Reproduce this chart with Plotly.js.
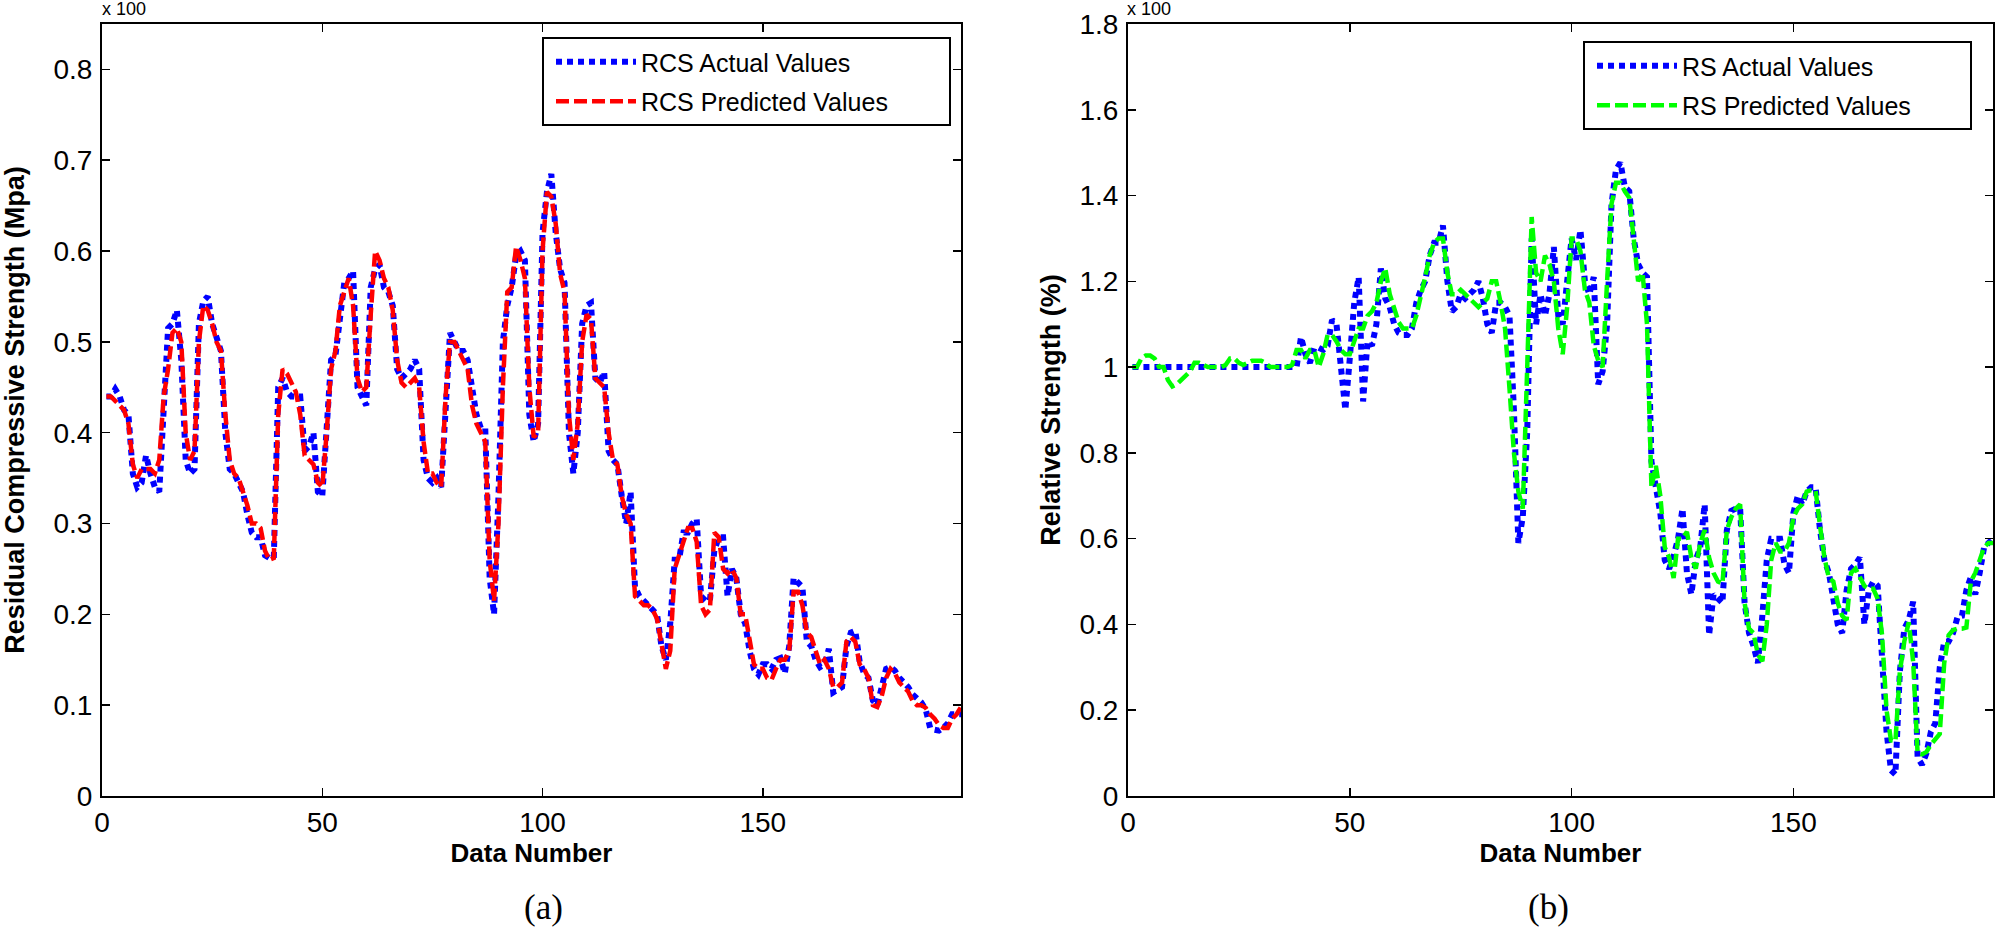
<!DOCTYPE html>
<html>
<head>
<meta charset="utf-8">
<script src="https://cdn.plot.ly/plotly-3.0.1.min.js"></script>
<style>html,body{margin:0;padding:0;background:#fff;}#chart{width:1995px;height:929px;}</style>
</head>
<body>
<div id="chart"></div>
<script>
// Data number (1..195)
const dataNumber = Array.from({length: 195}, (_, k) => k + 1);

// Panel (a): Residual Compressive Strength (x100 Mpa)
const rcsActual = [
0.44,0.44,0.448,0.44,0.425,0.42,0.355,0.34,0.345,0.375,
0.355,0.34,0.335,0.42,0.515,0.52,0.535,0.48,0.37,0.355,
0.36,0.52,0.545,0.55,0.52,0.505,0.49,0.4,0.36,0.355,
0.345,0.335,0.31,0.29,0.285,0.285,0.265,0.262,0.262,0.45,
0.46,0.445,0.44,0.44,0.44,0.38,0.385,0.4,0.335,0.33,
0.42,0.48,0.485,0.53,0.565,0.57,0.578,0.45,0.44,0.43,
0.56,0.58,0.585,0.56,0.555,0.54,0.47,0.46,0.465,0.47,
0.48,0.47,0.37,0.35,0.345,0.35,0.34,0.42,0.51,0.5,
0.49,0.49,0.48,0.45,0.42,0.405,0.405,0.24,0.2,0.33,
0.5,0.54,0.56,0.595,0.6,0.59,0.42,0.39,0.41,0.62,
0.665,0.685,0.62,0.58,0.565,0.4,0.355,0.4,0.52,0.54,
0.543,0.46,0.455,0.467,0.38,0.37,0.365,0.33,0.3,0.335,
0.23,0.22,0.215,0.21,0.205,0.2,0.165,0.15,0.19,0.26,
0.26,0.29,0.29,0.3,0.305,0.22,0.215,0.215,0.27,0.285,
0.285,0.22,0.25,0.24,0.2,0.19,0.16,0.14,0.134,0.145,
0.145,0.14,0.15,0.152,0.135,0.165,0.24,0.235,0.23,0.17,
0.165,0.15,0.142,0.145,0.162,0.114,0.118,0.12,0.165,0.18,
0.182,0.148,0.135,0.13,0.105,0.1,0.12,0.14,0.142,0.138,
0.13,0.125,0.12,0.112,0.108,0.103,0.095,0.075,0.073,0.072,
0.075,0.08,0.09,0.09,0.09
];
const rcsPredicted = [
0.44,0.44,0.435,0.43,0.425,0.41,0.365,0.35,0.36,0.36,
0.36,0.355,0.37,0.44,0.47,0.51,0.515,0.5,0.4,0.37,
0.38,0.5,0.54,0.535,0.52,0.5,0.49,0.42,0.37,0.355,
0.35,0.335,0.32,0.3,0.3,0.295,0.27,0.26,0.262,0.42,
0.47,0.465,0.455,0.445,0.42,0.375,0.37,0.365,0.345,0.34,
0.4,0.47,0.49,0.54,0.555,0.57,0.54,0.46,0.445,0.45,
0.53,0.6,0.59,0.57,0.56,0.535,0.48,0.455,0.45,0.455,
0.46,0.45,0.39,0.355,0.355,0.345,0.34,0.44,0.5,0.5,
0.49,0.48,0.47,0.43,0.41,0.4,0.39,0.26,0.215,0.3,
0.45,0.555,0.56,0.605,0.59,0.57,0.45,0.395,0.4,0.6,
0.665,0.66,0.63,0.575,0.555,0.42,0.37,0.41,0.5,0.53,
0.525,0.46,0.455,0.45,0.4,0.37,0.365,0.33,0.31,0.3,
0.22,0.215,0.21,0.21,0.205,0.195,0.17,0.14,0.16,0.25,
0.265,0.28,0.295,0.295,0.28,0.21,0.2,0.205,0.29,0.285,
0.25,0.245,0.25,0.24,0.2,0.2,0.17,0.145,0.14,0.14,
0.13,0.128,0.14,0.15,0.15,0.16,0.225,0.225,0.21,0.18,
0.175,0.16,0.145,0.15,0.14,0.12,0.12,0.125,0.17,0.175,
0.17,0.145,0.14,0.13,0.1,0.098,0.11,0.13,0.14,0.135,
0.125,0.12,0.115,0.105,0.1,0.1,0.097,0.09,0.085,0.078,
0.075,0.075,0.085,0.09,0.098
];

// Panel (b): Relative Strength (x100 %)
const rsActual = [
1,1,1,1,1,1,1,1,1,1,
1,1,1,1,1,1,1,1,1,1,
1,1,1,1,1,1,1,1,1,1,
1,1,1,1,1,1,1,1,1.07,1.03,
1.01,1.045,1.045,1.04,1.05,1.11,1.1,0.98,0.9,1.02,
1.15,1.21,0.92,1.06,1.05,1.1,1.23,1.16,1.14,1.1,
1.08,1.075,1.075,1.09,1.15,1.18,1.2,1.26,1.29,1.29,
1.33,1.2,1.13,1.14,1.17,1.16,1.17,1.18,1.2,1.16,
1.1,1.08,1.15,1.15,1.14,1.12,0.9,0.59,0.65,0.85,
1.3,1.1,1.17,1.12,1.17,1.28,1.12,1.1,1.2,1.3,
1.25,1.32,1.2,1.17,1.21,0.96,0.99,1.1,1.38,1.46,
1.477,1.42,1.41,1.3,1.24,1.22,1.21,0.78,0.72,0.66,
0.55,0.53,0.56,0.6,0.67,0.52,0.47,0.55,0.58,0.68,
0.375,0.47,0.46,0.45,0.62,0.665,0.67,0.67,0.45,0.38,
0.35,0.31,0.42,0.55,0.6,0.6,0.6,0.54,0.52,0.66,
0.7,0.68,0.71,0.72,0.72,0.62,0.55,0.52,0.45,0.4,
0.38,0.48,0.53,0.54,0.556,0.4,0.48,0.5,0.49,0.3,
0.15,0.06,0.05,0.29,0.39,0.41,0.453,0.09,0.073,0.1,
0.15,0.17,0.3,0.36,0.36,0.38,0.417,0.42,0.48,0.51,
0.47,0.52,0.58,0.59,0.6
];
const rsPredicted = [
1.0,1.0,1.02,1.027,1.027,1.02,1.0,1.0,0.97,0.955,
0.96,0.97,0.98,0.99,1.01,1.01,1.005,1.0,1.0,1.0,
1.0,1.005,1.02,1.02,1.01,1.005,1.01,1.015,1.015,1.015,
1.01,1.0,1.0,1.0,1.0,1.0,1.005,1.04,1.04,1.02,
1.04,1.04,1.0,1.03,1.075,1.075,1.06,1.04,1.03,1.03,
1.06,1.09,1.09,1.12,1.13,1.15,1.2,1.23,1.17,1.14,
1.105,1.09,1.09,1.09,1.12,1.16,1.21,1.26,1.29,1.3,
1.3,1.22,1.17,1.17,1.18,1.17,1.16,1.15,1.14,1.15,
1.16,1.2,1.2,1.15,1.09,0.95,0.8,0.71,0.67,1.0,
1.35,1.22,1.2,1.26,1.24,1.2,1.09,1.03,1.14,1.3,
1.3,1.27,1.18,1.15,1.05,1.015,1.0,1.2,1.38,1.43,
1.43,1.41,1.395,1.3,1.2,1.22,1.1,0.72,0.77,0.7,
0.58,0.556,0.508,0.6,0.6,0.616,0.556,0.53,0.59,0.62,
0.556,0.52,0.5,0.495,0.62,0.65,0.67,0.68,0.45,0.39,
0.38,0.33,0.314,0.4,0.55,0.59,0.57,0.57,0.59,0.65,
0.67,0.68,0.71,0.713,0.713,0.63,0.556,0.508,0.5,0.45,
0.42,0.41,0.52,0.53,0.51,0.49,0.483,0.483,0.46,0.375,
0.2,0.13,0.127,0.29,0.36,0.405,0.314,0.1,0.097,0.103,
0.12,0.133,0.145,0.31,0.375,0.387,0.39,0.39,0.393,0.5,
0.52,0.55,0.58,0.59,0.59
];

const xTickVals = [0, 50, 100, 150];
const panelLabels = ['(a)', '(b)'];
const legendNames = ['RCS Actual Values', 'RCS Predicted Values', 'RS Actual Values', 'RS Predicted Values'];
const yTitles = ['Residual Compressive Strength (Mpa)', 'Relative Strength (%)'];

const FONT = 'Liberation Sans, Arial, Helvetica, sans-serif';
const W = 1995, H = 929;
const dotLine = {color: '#0000ff', width: 6, dash: '6px,5px'};

const traces = [
  {x: dataNumber, y: rcsActual, name: legendNames[0], type: 'scatter', mode: 'lines',
   line: dotLine, xaxis: 'x', yaxis: 'y', legend: 'legend', legendgroup: 'a1'},
  {x: dataNumber, y: rcsPredicted, name: legendNames[1], type: 'scatter', mode: 'lines',
   line: {color: '#ff0000', width: 4.5, dash: '13px,5px'}, xaxis: 'x', yaxis: 'y', legend: 'legend', legendgroup: 'a2'},
  {x: dataNumber, y: rsActual, name: legendNames[2], type: 'scatter', mode: 'lines',
   line: dotLine, xaxis: 'x2', yaxis: 'y2', legend: 'legend2', legendgroup: 'b1'},
  {x: dataNumber, y: rsPredicted, name: legendNames[3], type: 'scatter', mode: 'lines',
   line: {color: '#00ff00', width: 4.5, dash: '13px,5px'}, xaxis: 'x2', yaxis: 'y2', legend: 'legend2', legendgroup: 'b2'}
];

const yDom = [1 - 796 / H, 1 - 24 / H];

function xAxis(dom, anchor) {
  return {
    domain: dom, anchor: anchor, range: [0, 195], tickvals: xTickVals,
    ticks: 'inside', ticklen: 8, tickwidth: 1.5, tickcolor: '#000',
    showline: true, linecolor: '#000', linewidth: 2, mirror: 'ticks',
    showgrid: false, zeroline: false,
    tickfont: {family: FONT, size: 28, color: '#000'},
    title: {text: 'Data Number', font: {family: FONT, size: 26, color: '#000', weight: 'bold'}, standoff: 4},
    automargin: false
  };
}
function yAxis(dom, anchor, range, dtick, title, standoff) {
  return {
    domain: dom, anchor: anchor, range: range, dtick: dtick, tick0: 0,
    ticks: 'inside', ticklen: 8, tickwidth: 1.5, tickcolor: '#000',
    showline: true, linecolor: '#000', linewidth: 2, mirror: 'ticks',
    showgrid: false, zeroline: false,
    tickfont: {family: FONT, size: 28, color: '#000'},
    ticklabelstandoff: 2,
    title: {text: title, font: {family: FONT, size: 27, color: '#000', weight: 'bold'}, standoff: standoff},
    automargin: false
  };
}

function legendCfg(xLeft, yTop) {
  return {
    x: xLeft, xanchor: 'left', y: 1 - yTop / H, yanchor: 'top',
    bgcolor: 'rgba(0,0,0,0)', borderwidth: 0,
    font: {family: FONT, size: 25, color: '#000'},
    itemwidth: 80, tracegroupgap: 4, traceorder: 'grouped'
  };
}

function box(x0, x1, y0, y1) {
  return {type: 'rect', xref: 'paper', yref: 'paper', x0: x0 / W, x1: x1 / W, y0: 1 - y1 / H, y1: 1 - y0 / H,
          line: {color: '#000', width: 2}, fillcolor: '#fff', layer: 'above'};
}

const layout = {
  width: W, height: H,
  margin: {l: 0, r: 0, t: 0, b: 0},
  paper_bgcolor: '#fff', plot_bgcolor: '#fff',
  showlegend: true,
  xaxis: xAxis([102 / W, 961 / W], 'y'),
  yaxis: yAxis(yDom, 'x', [0, 0.85], 0.1, yTitles[0], 22),
  xaxis2: xAxis([1128 / W, 1993 / W], 'y2'),
  yaxis2: yAxis(yDom, 'x2', [0, 1.8], 0.2, yTitles[1], 11),
  legend: legendCfg(551 / W, 39),
  legend2: legendCfg(1592 / W, 43),
  shapes: [box(543, 950, 38, 125), box(1584, 1971, 42, 129)],
  annotations: [
    {text: 'x 100', xref: 'paper', yref: 'paper', x: 100 / W, y: 1 - 9 / H, xanchor: 'left', yanchor: 'middle',
     showarrow: false, font: {family: FONT, size: 18, color: '#000'}},
    {text: 'x 100', xref: 'paper', yref: 'paper', x: 1125 / W, y: 1 - 9 / H, xanchor: 'left', yanchor: 'middle',
     showarrow: false, font: {family: FONT, size: 18, color: '#000'}},
    {text: panelLabels[0], xref: 'paper', yref: 'paper', x: 543 / W, y: 0, xanchor: 'center', yanchor: 'bottom',
     showarrow: false, font: {family: 'Liberation Serif, Times New Roman, serif', size: 35, color: '#000'}},
    {text: panelLabels[1], xref: 'paper', yref: 'paper', x: 1548 / W, y: 0, xanchor: 'center', yanchor: 'bottom',
     showarrow: false, font: {family: 'Liberation Serif, Times New Roman, serif', size: 35, color: '#000'}}
  ]
};

Plotly.newPlot('chart', traces, layout, {displayModeBar: false, staticPlot: true});
</script>
</body>
</html>
